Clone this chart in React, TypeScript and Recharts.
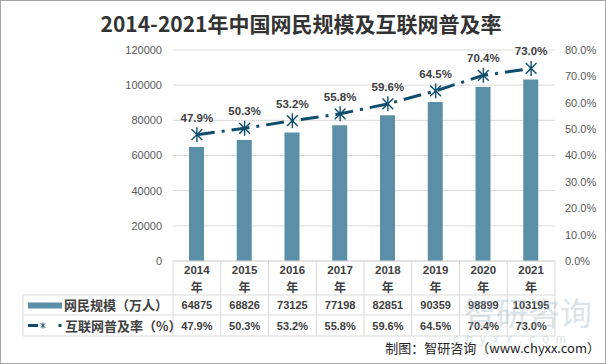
import React from 'react';
import { ComposedChart, Bar, Line, XAxis, YAxis, CartesianGrid, LabelList } from 'recharts';

const years = ['2014', '2015', '2016', '2017', '2018', '2019', '2020', '2021'];
const netizens = [64875, 68826, 73125, 77198, 82851, 90359, 98899, 103195];
const penetration = [47.9, 50.3, 53.2, 55.8, 59.6, 64.5, 70.4, 73.0];
const leftTicks = [0, 20000, 40000, 60000, 80000, 100000, 120000];
const rightTicks = [0, 10, 20, 30, 40, 50, 60, 70, 80];
const seriesNames = ['网民规模（万人）', '互联网普及率（%）'];
const titleText = '2014-2021年中国网民规模及互联网普及率';
const sourceText = '制图：智研咨询（www.chyxx.com）';

const data = years.map((y, i) => ({ year: y, users: netizens[i], rate: penetration[i] }));

const W = 606;
const H = 364;
const PLOT_L = 173;
const PLOT_R = 555;
const COL_W = (PLOT_R - PLOT_L) / years.length;
const BAR = '#5B8EA7';
const LINE = '#0F4E6C';
const GRID = '#D9D9D9';
const TXT = '#404040';
const AX = '#595959';
const CJK = '"Noto Sans CJK SC", "Liberation Sans", sans-serif';
const LAT = '"Liberation Sans", Arial, sans-serif';

const fmtPct = (v: number) => `${Number(v).toFixed(1)}%`;

const Star = ({ cx, cy, r, sw }: { cx: number; cy: number; r: number; sw: number }) => {
  const d = r * 0.72;
  return (
    <g stroke={LINE} strokeWidth={sw} fill="none">
      <line x1={cx - d} y1={cy - d} x2={cx + d} y2={cy + d} />
      <line x1={cx - d} y1={cy + d} x2={cx + d} y2={cy - d} />
      <line x1={cx} y1={cy - r} x2={cx} y2={cy + r} />
    </g>
  );
};

const TableTick = (props: any) => {
  const { x, y, index } = props;
  const L = x - COL_W / 2;
  const R = x + COL_W / 2;
  const y0 = y;
  const r1 = y0 + 34;
  const r2 = y0 + 54;
  const r3 = y0 + 75;
  const d = data[index];
  return (
    <g>
      <line x1={L} y1={y0} x2={L} y2={r3} stroke={GRID} />
      {index === years.length - 1 && <line x1={R} y1={y0} x2={R} y2={r3} stroke={GRID} />}
      <line x1={L} y1={r1} x2={R} y2={r1} stroke={GRID} />
      <line x1={L} y1={r2} x2={R} y2={r2} stroke={GRID} />
      <line x1={L} y1={r3} x2={R} y2={r3} stroke={GRID} />
      <text x={x} y={y0 + 13} textAnchor="middle" fontFamily={LAT} fontWeight="bold" fontSize={11.5} fill={TXT}>
        {d.year}
      </text>
      <text x={x} y={y0 + 31} textAnchor="middle" fontFamily={CJK} fontWeight="bold" fontSize={12} fill={TXT}>
        年
      </text>
      <text x={x} y={r1 + 14} textAnchor="middle" fontFamily={LAT} fontWeight="bold" fontSize={11} fill={TXT}>
        {d.users}
      </text>
      <text x={x} y={r2 + 14.5} textAnchor="middle" fontFamily={LAT} fontWeight="bold" fontSize={11} fill={TXT}>
        {fmtPct(d.rate)}
      </text>
      {index === 0 && (
        <g>
          <line x1={23} y1={r1} x2={L} y2={r1} stroke={GRID} />
          <line x1={23} y1={r2} x2={L} y2={r2} stroke={GRID} />
          <line x1={23} y1={r3} x2={L} y2={r3} stroke={GRID} />
          <line x1={23} y1={r1} x2={23} y2={r3} stroke={GRID} />
          <rect x={28} y={r1 + 7.5} width={34} height={6} fill={BAR} />
          <text x={64} y={r1 + 15} fontFamily={CJK} fontWeight="bold" fontSize={13} fill={TXT}>
            {seriesNames[0]}
          </text>
          <line x1={28} y1={r2 + 10.5} x2={38} y2={r2 + 10.5} stroke={LINE} strokeWidth={3} />
          <Star cx={43} cy={r2 + 10.5} r={3} sw={1} />
          <rect x={58.5} y={r2 + 9} width={3} height={3} fill={LINE} />
          <text x={65} y={r2 + 15.5} fontFamily={CJK} fontWeight="bold" fontSize={13} fill={TXT}>
            {seriesNames[1]}
          </text>
        </g>
      )}
    </g>
  );
};

const StarDot = (props: any) => {
  const { cx, cy, index } = props;
  if (cx == null || cy == null) return <g key={`s${index}`} />;
  return (
    <g key={`s${index}`}>
      <Star cx={cx} cy={cy} r={7.5} sw={1.4} />
    </g>
  );
};

export default function App() {
  return (
    <div style={{ position: 'absolute', left: 0, top: 0, width: W, height: H, background: '#fff' }}>
      <ComposedChart
        width={W}
        height={H}
        data={data}
        margin={{ top: 50, right: 0, bottom: 0, left: 0 }}
      >
        <CartesianGrid yAxisId="left" vertical={false} stroke={GRID} />
        <XAxis
          dataKey="year"
          height={103}
          interval={0}
          axisLine={{ stroke: GRID }}
          tickLine={false}
          tickSize={0}
          tickMargin={0}
          tick={<TableTick />}
        />
        <YAxis
          yAxisId="left"
          orientation="left"
          width={PLOT_L}
          domain={[0, 120000]}
          ticks={leftTicks}
          interval={0}
          axisLine={false}
          tickLine={false}
          tickMargin={5}
          tick={{ fill: AX, fontSize: 11, fontFamily: LAT }}
        />
        <YAxis
          yAxisId="right"
          orientation="right"
          width={W - PLOT_R}
          domain={[0, 80]}
          ticks={rightTicks}
          interval={0}
          axisLine={false}
          tickLine={false}
          tickMargin={4}
          tickFormatter={fmtPct}
          tick={{ fill: AX, fontSize: 11, fontFamily: LAT, textAnchor: 'start' }}
        />
        <Bar yAxisId="left" dataKey="users" fill={BAR} barSize={15} isAnimationActive={false} />
        <Line
          yAxisId="right"
          dataKey="rate"
          stroke={LINE}
          strokeWidth={3}
          strokeDasharray="18 7 3 7"
          dot={<StarDot />}
          activeDot={false}
          isAnimationActive={false}
        >
          <LabelList
            dataKey="rate"
            position="top"
            offset={13}
            formatter={(v: any) => fmtPct(v)}
            fill={TXT}
            fontSize={11.5}
            fontWeight="bold"
            fontFamily={LAT}
          />
        </Line>
      </ComposedChart>
      <svg width={W} height={H} style={{ position: 'absolute', left: 0, top: 0, pointerEvents: 'none' }}>
        <text x={301} y={32} textAnchor="middle" fontFamily={CJK} fontWeight="bold" fontSize={21} fill="#333333">
          {titleText}
        </text>
        <text x={528} y={325} textAnchor="middle" fontFamily={CJK} fontSize={32} fill="#9AAFC0" opacity={0.35}>
          智研咨询
        </text>
        <text x={513} y={343} textAnchor="middle" fontFamily={LAT} fontSize={12} letterSpacing={7} fill="#9AAFC0" opacity={0.35}>
          chyxx.com
        </text>
        <text x={600} y={353} textAnchor="end" fontFamily={CJK} fontSize={13} fill="#222222">
          {sourceText}
        </text>
        <rect x={0.5} y={0.5} width={W - 1} height={H - 1} fill="none" stroke="#A6A6A6" />
      </svg>
    </div>
  );
}
